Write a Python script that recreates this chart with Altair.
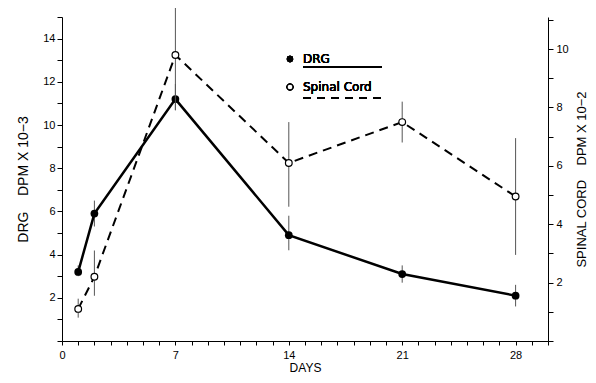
import altair as alt
import pandas as pd

days = [1, 2, 7, 14, 21, 28]
drg = [3.2, 5.9, 11.2, 4.9, 3.1, 2.1]
drg_lo = [3.0, 5.3, 10.7, 4.2, 2.7, 1.6]
drg_hi = [3.5, 6.5, 11.9, 5.8, 3.5, 2.6]
sc = [1.1, 2.2, 9.8, 6.1, 7.5, 4.95]
sc_lo = [0.8, 1.55, 7.9, 4.6, 6.8, 2.95]
sc_hi = [1.45, 3.1, 11.5, 7.5, 8.2, 6.95]

x_ticks = list(range(0, 31))
left_ticks = list(range(0, 16))
right_ticks = list(range(0, 12))

df = pd.DataFrame({"day": days, "drg": drg, "drg_lo": drg_lo, "drg_hi": drg_hi,
                   "sc": sc, "sc_lo": sc_lo, "sc_hi": sc_hi})

FONT = "Liberation Sans"
LFONT = "DejaVu Sans"

xenc = alt.X("day:Q", scale=alt.Scale(domain=[0, 30], nice=False, zero=False),
             axis=alt.Axis(values=x_ticks, labelExpr="datum.value % 7 == 0 ? datum.label : ''",
                           title="DAYS", grid=False, tickSize=4, labelOverlap=False,
                           labelFlush=False, labelPadding=4, titlePadding=2,
                           domainColor="black", tickColor="black", labelColor="black",
                           titleColor="black", labelFontSize=11, titleFontSize=12,
                           titleFontWeight="normal", labelFont=FONT, titleFont=FONT))

yl_scale = alt.Scale(domain=[0, 15], nice=False)
yr_scale = alt.Scale(domain=[0, 11.1], nice=False)

yl_axis = alt.Axis(orient="left", values=left_ticks,
                   labelExpr="datum.value % 2 == 0 && datum.value > 0 ? datum.label : ''",
                   title="DRG\u00a0\u00a0\u00a0\u00a0DPM X 10\u22123", grid=False, tickSize=5,
                   labelOverlap=False, labelFlush=False, labelPadding=2, titlePadding=12,
                   domainColor="black", tickColor="black", labelColor="black", titleColor="black",
                   labelFontSize=11, titleFontSize=14, titleFontWeight="normal",
                   labelFont=FONT, titleFont=FONT)
yr_axis = alt.Axis(orient="right", values=right_ticks,
                   labelExpr="datum.value % 2 == 0 && datum.value > 0 ? datum.label : ''",
                   title="SPINAL CORD\u00a0\u00a0\u00a0\u00a0DPM X 10\u22122", grid=False, tickSize=5,
                   labelOverlap=False, labelFlush=False, labelPadding=3, titlePadding=7,
                   titleAngle=270, titleBaseline="top",
                   domainColor="black", tickColor="black", labelColor="black", titleColor="black",
                   labelFontSize=11, titleFontSize=13, titleFontWeight="normal",
                   labelFont=FONT, titleFont=FONT)

base = alt.Chart(df)

drg_err = base.mark_rule(color="#555", strokeWidth=1).encode(
    x=xenc, y=alt.Y("drg_lo:Q", scale=yl_scale, axis=yl_axis), y2="drg_hi:Q")
drg_line = base.mark_line(color="black", strokeWidth=2.5).encode(
    x=xenc, y=alt.Y("drg:Q", scale=yl_scale, axis=yl_axis))
drg_pts = base.mark_point(filled=True, color="black", size=60, opacity=1).encode(
    x=xenc, y=alt.Y("drg:Q", scale=yl_scale, axis=yl_axis))

leg_dot1 = base.mark_point(filled=True, color="black", size=40, opacity=1).encode(
    x=alt.value(228), y=alt.value(42))
leg_txt1 = base.mark_text(text="DRG", align="left", baseline="middle", fontSize=12,
                          fontWeight="normal", font=LFONT, color="black").encode(
    x=alt.value(241), y=alt.value(42))
leg_line1 = base.mark_rule(color="black", strokeWidth=2).encode(
    x=alt.value(241), x2=alt.value(320), y=alt.value(50))

drg_layer = alt.layer(drg_err, drg_line, drg_pts, leg_dot1, leg_txt1, leg_line1)

sc_err = base.mark_rule(color="#555", strokeWidth=1).encode(
    x=xenc, y=alt.Y("sc_lo:Q", scale=yr_scale, axis=yr_axis), y2="sc_hi:Q")
sc_line = base.mark_line(color="black", strokeWidth=2, strokeDash=[9, 6]).encode(
    x=xenc, y=alt.Y("sc:Q", scale=yr_scale, axis=yr_axis))
sc_pts = base.mark_point(filled=True, fill="white", stroke="black", strokeWidth=1.2,
                         size=45, opacity=1).encode(
    x=xenc, y=alt.Y("sc:Q", scale=yr_scale, axis=yr_axis))

leg_dot2 = base.mark_point(filled=True, fill="white", stroke="black", strokeWidth=1.2,
                           size=35, opacity=1).encode(x=alt.value(228), y=alt.value(70))
leg_txt2 = base.mark_text(text="Spinal Cord", align="left", baseline="middle", fontSize=12,
                          fontWeight="normal", font=LFONT, color="black").encode(
    x=alt.value(241), y=alt.value(70))
leg_line2 = base.mark_rule(color="black", strokeWidth=2, strokeDash=[8, 6]).encode(
    x=alt.value(241), x2=alt.value(320), y=alt.value(81))

sc_layer = alt.layer(sc_err, sc_line, sc_pts, leg_dot2, leg_txt2, leg_line2)

chart = alt.layer(drg_layer, sc_layer).resolve_scale(y="independent").properties(
    width=486, height=324,
    autosize=alt.AutoSizeParams(type="none"),
    padding={"left": 54, "top": 9, "right": 40, "bottom": 34},
    background="white",
).configure_view(stroke=None)

chart.save("out.html", embed_options={"renderer": "svg", "actions": False})
